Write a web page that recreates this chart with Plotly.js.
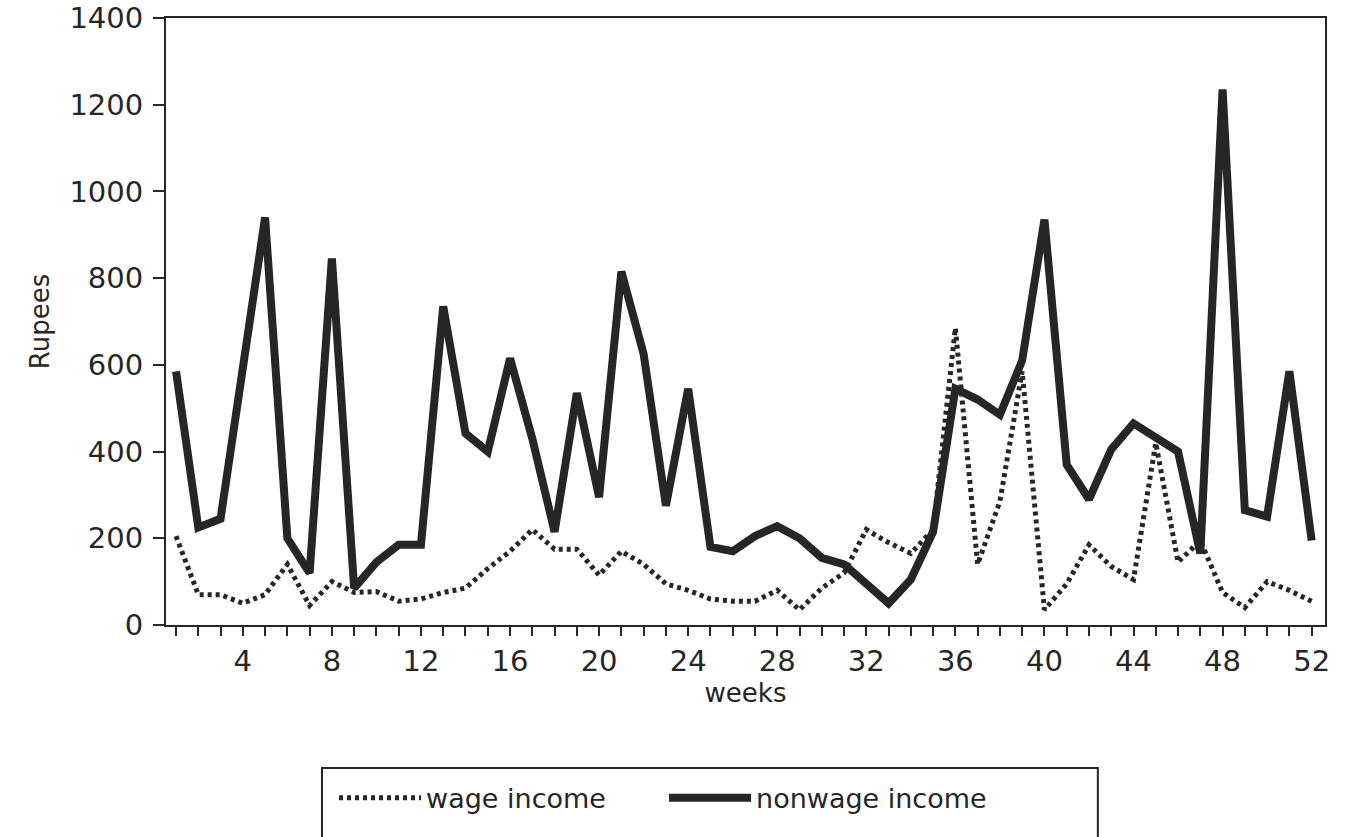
<!DOCTYPE html>
<html>
<head>
<meta charset="utf-8">
<script src="https://cdn.plot.ly/plotly-3.0.1.min.js"></script>
<style>html,body{margin:0;padding:0;background:#fff;}#chart{width:1345px;height:837px;}</style>
</head>
<body>
<div id="chart"></div>
<script>
const weeks = [];
for (let w = 1; w <= 52; w++) weeks.push(w);

const wageIncome = [205, 70, 70, 50, 70, 140, 45, 100, 75, 77, 55, 60, 75, 85, 130, 170, 220,
  175, 175, 115, 170, 140, 95, 80, 60, 55, 55, 80, 35, 85, 120, 220, 190, 165,
  220, 685, 140, 285, 585, 35, 95, 185, 135, 105, 420, 145, 195, 75, 40, 100, 80, 55];

const nonwageIncome = [585, 225, 245, 600, 940, 200, 120, 845, 85, 145, 185, 185, 735, 442, 400, 615, 430,
  215, 535, 295, 815, 625, 275, 545, 180, 170, 205, 228, 200, 155, 140, 95, 50, 105,
  215, 545, 520, 485, 610, 935, 370, 290, 405, 465, 430, 400, 165, 1235, 265, 250, 585, 195];

const yTicks = [0, 200, 400, 600, 800, 1000, 1200, 1400];
const xTickText = weeks.map(w => (w % 4 === 0 ? String(w) : ''));

const ink = '#262626';
const fontFam = 'DejaVu Sans, Liberation Sans, sans-serif';

const traces = [
  {
    x: weeks, y: wageIncome, name: 'wage income', type: 'scatter', mode: 'lines',
    line: {color: ink, width: 5, dash: '4px,4px'}
  },
  {
    x: weeks, y: nonwageIncome, name: 'nonwage income', type: 'scatter', mode: 'lines',
    line: {color: ink, width: 8}
  }
];

const layout = {
  width: 1345, height: 837,
  margin: {l: 166, r: 20, t: 18, b: 212},
  paper_bgcolor: '#fff', plot_bgcolor: '#fff',
  font: {family: fontFam, color: ink, size: 26},
  showlegend: true,
  legend: {
    orientation: 'h', x: 0.145, xanchor: 'left', y: -0.245, yanchor: 'top',
    font: {family: fontFam, size: 27, color: ink},
    bgcolor: 'rgba(0,0,0,0)', borderwidth: 0,
    itemwidth: 82, entrywidth: 233, entrywidthmode: 'pixels'
  },
  xaxis: {
    range: [0.55, 52.6], tickmode: 'array', tickvals: weeks, ticktext: xTickText,
    ticks: 'outside', ticklen: 9, tickwidth: 2, tickcolor: ink,
    showline: true, linewidth: 2, linecolor: ink, mirror: true,
    showgrid: false, zeroline: false,
    tickfont: {size: 29, family: fontFam, color: ink},
    title: {text: 'weeks', font: {size: 26, family: fontFam, color: ink}, standoff: 2}
  },
  yaxis: {
    range: [0, 1400], tickmode: 'array', tickvals: yTicks,
    ticks: 'outside', ticklen: 11, tickwidth: 2, tickcolor: ink,
    showline: true, linewidth: 2, linecolor: ink, mirror: true,
    showgrid: false, zeroline: false, ticklabelstandoff: 4,
    tickfont: {size: 29, family: fontFam, color: ink},
    title: {text: 'Rupees', font: {size: 26, family: fontFam, color: ink}, standoff: 12}
  },
  shapes: [
    {type: 'rect', xref: 'paper', yref: 'paper', x0: 0.1346, x1: 0.804, y0: -0.2356, y1: -0.40,
     line: {color: ink, width: 2}, fillcolor: 'rgba(0,0,0,0)'}
  ]
};

Plotly.newPlot('chart', traces, layout, {displayModeBar: false, staticPlot: true});
</script>
</body>
</html>
